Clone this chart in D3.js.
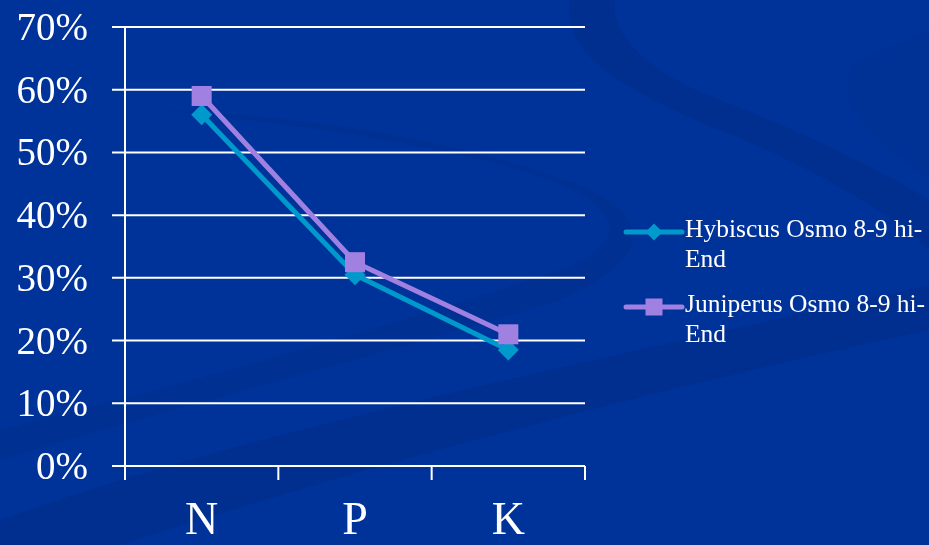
<!DOCTYPE html>
<html><head><meta charset="utf-8">
<script src="https://cdn.jsdelivr.net/npm/d3@7"></script>
<style>html,body{margin:0;padding:0;background:#003399;overflow:hidden}</style>
</head><body>
<svg id="c" width="929" height="545"></svg>
<script>
const categories = ["N", "P", "K"];
const seriesNames = ["Hybiscus Osmo 8-9 hi-End", "Juniperus Osmo 8-9 hi-End"];
const hybiscus = [0.56, 0.305, 0.185];
const juniperus = [0.59, 0.325, 0.21];
const yTicks = [0, 0.1, 0.2, 0.3, 0.4, 0.5, 0.6, 0.7];
const colors = ["#0099CC", "#A080E0"];

const svg = d3.select("#c");
const W = 929, H = 545;
const font = "'Liberation Serif','Times New Roman',serif";

// background
svg.append("rect").attr("width", W).attr("height", H).attr("fill", "#003399");
const bg = svg.append("g").attr("fill", "#002c88").attr("opacity", 0.55);
bg.append("path").attr("d", "M0,545 L0,520 C250,430 600,360 929,285 L929,330 C650,390 350,470 120,545 Z");
bg.append("path").attr("d", "M0,430 C200,380 380,330 560,270 C640,240 620,200 520,170 C400,135 250,120 160,110 C300,115 470,140 590,190 C660,225 640,265 560,300 C400,350 200,400 0,460 Z").attr("opacity", 0.7);
bg.append("path").attr("d", "M570,0 C560,50 620,90 720,130 C820,170 900,220 929,250 L929,200 C880,170 800,130 720,100 C640,70 610,30 615,0 Z");
bg.append("path").attr("d", "M930,180 C850,120 830,90 860,60 L929,30 Z").attr("opacity", 0.5);

const x = d3.scaleBand().domain(categories).range([125, 585]);
const y = d3.scaleLinear().domain([0, 0.7]).range([466, 27]);

// gridlines
svg.append("g").selectAll("line").data(yTicks).join("line")
  .attr("x1", 112).attr("x2", 585)
  .attr("y1", d => y(d)).attr("y2", d => y(d))
  .attr("stroke", "#fff").attr("stroke-width", 2);

// y axis line
svg.append("line").attr("x1", 125).attr("x2", 125).attr("y1", y(0.7)).attr("y2", 480)
  .attr("stroke", "#fff").attr("stroke-width", 2);
// x ticks
const xEdges = categories.map(c => x(c)).concat([x(categories[categories.length-1]) + x.bandwidth()]);
svg.append("g").selectAll("line").data(xEdges).join("line")
  .attr("x1", d => d).attr("x2", d => d).attr("y1", 466).attr("y2", 480)
  .attr("stroke", "#fff").attr("stroke-width", 2);

// y labels
svg.append("g").selectAll("text").data(yTicks).join("text")
  .attr("x", 88).attr("y", d => y(d) + 13)
  .attr("text-anchor", "end").attr("fill", "#fff")
  .attr("font-family", font).attr("font-size", 39)
  .text(d => d3.format(".0%")(d));

// x labels
svg.append("g").selectAll("text").data(categories).join("text")
  .attr("x", d => x(d) + x.bandwidth()/2).attr("y", 534)
  .attr("text-anchor", "middle").attr("fill", "#fff")
  .attr("font-family", font).attr("font-size", 46)
  .text(d => d);

const cx = d => x(d) + x.bandwidth()/2;
const series = [hybiscus, juniperus];
const line = d3.line().x((d, i) => cx(categories[i])).y(d => y(d));
series.forEach((s, k) => {
  svg.append("path").datum(s).attr("d", line).attr("fill", "none")
    .attr("stroke", colors[k]).attr("stroke-width", 5).attr("stroke-linejoin", "round");
});
function marker(g, k, px, py, size) {
  if (k === 0) {
    g.append("path").attr("d", d3.symbol(d3.symbolSquare).size(size*size/2)())
      .attr("transform", `translate(${px},${py}) rotate(45)`).attr("fill", colors[0]);
  } else {
    g.append("rect").attr("x", px - size/2).attr("y", py - size/2)
      .attr("width", size).attr("height", size).attr("fill", colors[1]);
  }
}
series.forEach((s, k) => {
  const g = svg.append("g");
  s.forEach((v, i) => marker(g, k, cx(categories[i]), y(v), k === 0 ? 21 : 20));
});

// legend
const legY = [232, 307];
seriesNames.forEach((name, k) => {
  const g = svg.append("g");
  g.append("line").attr("x1", 626).attr("x2", 682).attr("y1", legY[k]).attr("y2", legY[k])
    .attr("stroke", colors[k]).attr("stroke-width", 5).attr("stroke-linecap", "round");
  marker(g, k, 654, legY[k], 17);
  const parts = name.split(" hi-");
  const t = g.append("text").attr("fill", "#fff").attr("font-family", font).attr("font-size", 25.5);
  t.append("tspan").attr("x", 685).attr("y", legY[k] + 5).text(parts[0] + " hi-");
  t.append("tspan").attr("x", 685).attr("y", legY[k] + 35).text(parts[1]);
});
</script>
</body></html>
